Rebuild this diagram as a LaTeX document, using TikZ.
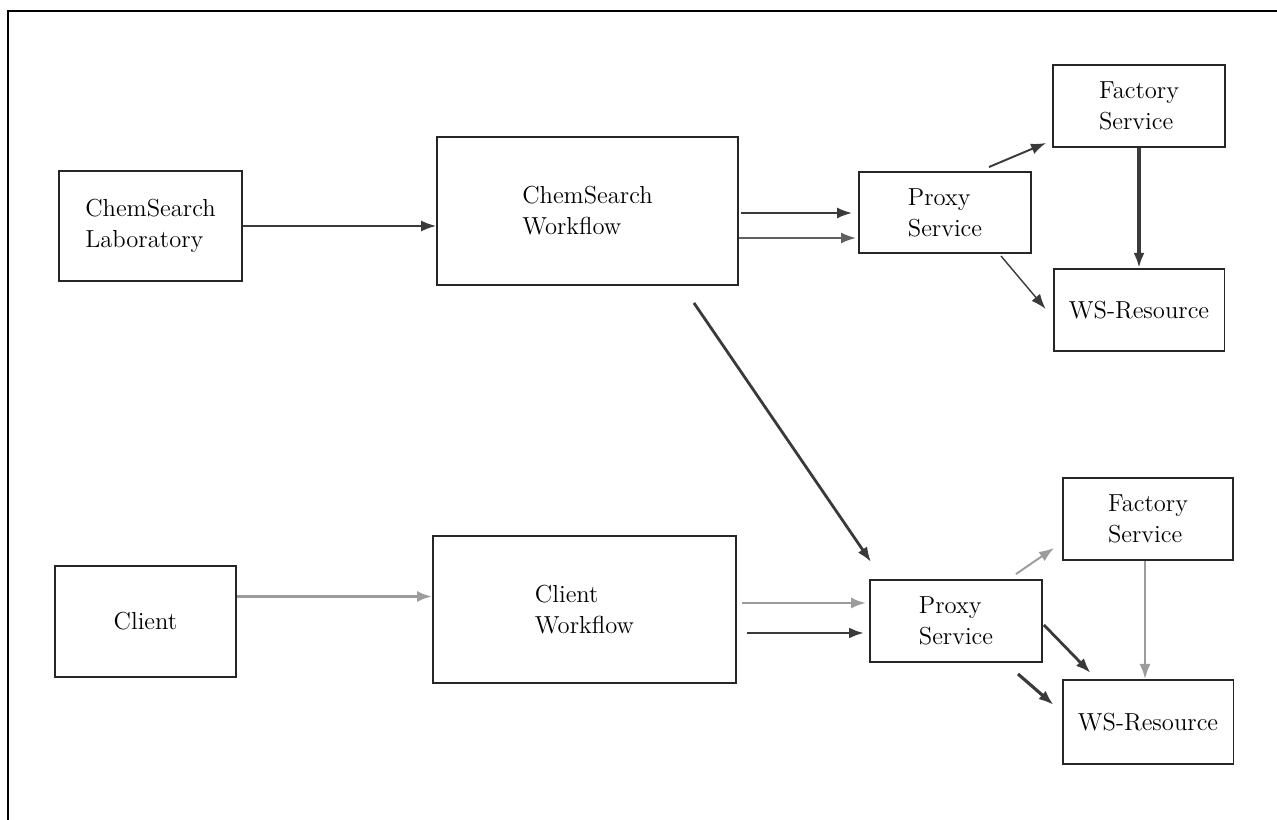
\documentclass[tikz,border=0pt]{standalone}
\usetikzlibrary{positioning, arrows.meta, calc}
\definecolor{dkline}{HTML}{3A3A3A}
\definecolor{ltline}{HTML}{9C9C9C}

\begin{document}
\begin{tikzpicture}[x=0.02cm, y=-0.02cm,
      bx/.style={draw=black!85, line width=1.1pt, font=\fontsize{14}{17.6}\selectfont, align=left, inner sep=0pt},
      dk/.style={-{Latex[length=0.3cm,width=0.22cm]}, line width=1.1pt, color=dkline},
      lt/.style={-{Latex[length=0.3cm,width=0.22cm]}, line width=1.5pt, color=ltline}]
    \useasboundingbox (0,0) rectangle (1277,820);
    \draw[line width=1pt] (8,820) -- (8,11) -- (1277,11);
    \node[bx, minimum width=3.66cm, minimum height=2.2cm] (lab) at (150.5,226) {ChemSearch\\Laboratory};
    \node[bx, minimum width=6.02cm, minimum height=2.96cm] (cflow) at (587.5,211) {ChemSearch\\Workflow};
    \node[bx, minimum width=3.44cm, minimum height=1.62cm] (proxyA) at (945,212.5) {Proxy\\Service};
    \node[bx, minimum width=3.44cm, minimum height=1.64cm] (factA) at (1139,106) {Factory\\Service};
    \node[bx, minimum width=3.42cm, minimum height=1.64cm, below=2.4cm of factA] (wsA) {WS-Resource};
    \node[bx, minimum width=3.62cm, minimum height=2.22cm] (client) at (145.5,621.5) {Client};
    \node[bx, minimum width=6.06cm, minimum height=2.94cm] (clflow) at (584.5,609.5) {Client\\Workflow};
    \node[bx, minimum width=3.44cm, minimum height=1.64cm] (proxyB) at (956,621) {Proxy\\Service};
    \node[bx, minimum width=3.40cm, minimum height=1.64cm] (factB) at (1148,519) {Factory\\Service};
    \node[bx, minimum width=3.42cm, minimum height=1.68cm, below=2.36cm of factB] (wsB) {WS-Resource};
    \coordinate (cf1) at ($(cflow.east)+(0,2)$);
    \coordinate (cf2) at ($(cflow.east)+(0,27)$);
    \coordinate (cl0) at ($(client.east)+(0,-25)$);
    \coordinate (cl1) at ($(clflow.east)+(0,-6.5)$);
    \coordinate (cl2) at ($(clflow.east)+(0,23.5)$);
    \coordinate (fb) at ($(factB.south)+(-3,0)$);
    \draw[dk, line width=0.9pt] (lab.east) -- (lab.east -| cflow.west);
    \draw[dk, shorten <=0.04cm, shorten >=0.12cm] (cf1) -- (cf1 -| proxyA.west);
    \draw[dk, color=dkline!80, shorten >=0.04cm] (cf2) -- (cf2 -| proxyA.west);
    \draw[dk] ($(proxyA.north east)+(-43,-4)$) -- ($(factA.south west)+(-6,-5)$);
    \draw[dk, line width=0.8pt] ($(proxyA.south east)+(-31,2)$) -- ($(wsA.west)+(-7,-1)$);
    \draw[dk, line width=1.8pt] (factA.south) -- (factA.south |- wsA.north);
    \draw[dk, line width=1.6pt] ($(cflow.south east)+(-45,17)$) -- ($(proxyB.north west)+(2,-17)$);
    \draw[lt] (cl0) -- (cl0 -| clflow.west);
    \draw[lt, shorten <=0.1cm, shorten >=0.06cm] (cl1) -- (cl1 -| proxyB.west);
    \draw[dk, line width=1.6pt, shorten <=0.2cm, shorten >=0.1cm] (cl2) -- (cl2 -| proxyB.west);
    \draw[lt, line width=1.1pt] ($(proxyB.north east)+(-27,-5)$) -- ($(factB.south west)+(-8,-13)$);
    \draw[dk, line width=1.6pt] ($(proxyB.east)+(1,4)$) -- ($(wsB.north west)+(29,-6)$);
    \draw[dk, line width=1.8pt] ($(proxyB.south east)+(-25,11)$) -- ($(wsB.west)+(-8,-17)$);
    \draw[lt, line width=1.1pt] (fb) -- (fb |- wsB.north);
  \end{tikzpicture}
\end{document}
